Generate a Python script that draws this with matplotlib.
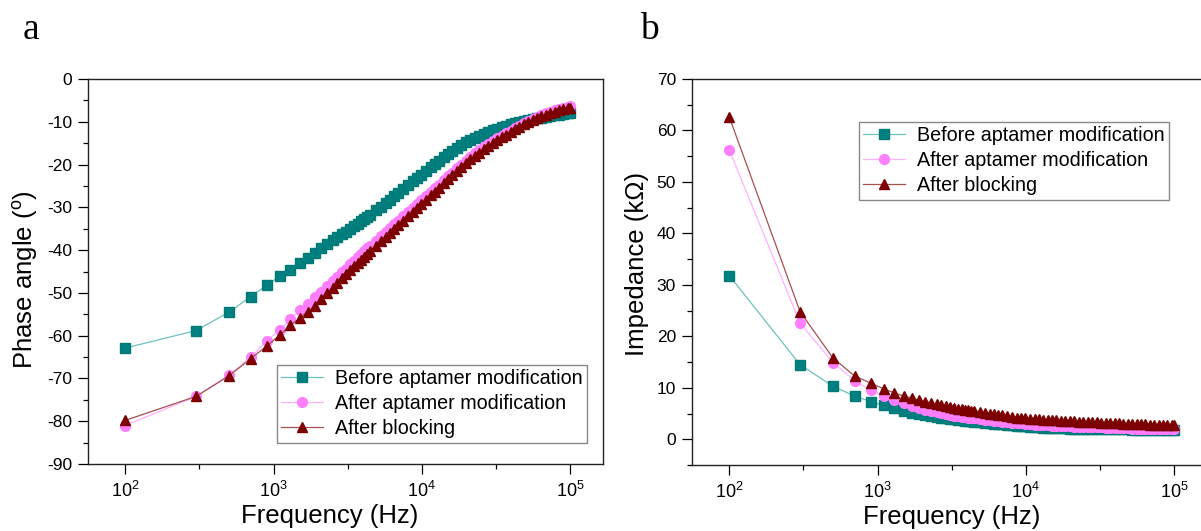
import matplotlib
matplotlib.use("Agg")
import math
import matplotlib.pyplot as plt
from matplotlib.ticker import FixedLocator, FuncFormatter, MultipleLocator

plt.rcParams['font.family'] = ['Liberation Sans', 'DejaVu Sans']
plt.rcParams['mathtext.fontset'] = 'custom'
plt.rcParams['mathtext.rm'] = 'Liberation Sans'
plt.rcParams['mathtext.it'] = 'Liberation Sans:italic'
plt.rcParams['mathtext.default'] = 'regular'
plt.rcParams['axes.unicode_minus'] = False

# ---------------- data ----------------
freq = [100, 300, 500, 700, 900, 1100, 1300, 1500, 1700, 1900,
        2100, 2300, 2500, 2700, 2900, 3100, 3300, 3500, 3700, 3900,
        4100, 4300, 4500, 4900, 5300, 5700, 6100, 6500, 6900, 7500,
        8100, 8700, 9300, 9900, 10700, 11500, 12300, 13100, 14100, 15100,
        16100, 17300, 18500, 19900, 21300, 22900, 24500, 26300, 28100, 30100,
        32300, 34700, 37100, 39700, 42500, 45500, 48700, 52100, 55900, 59900,
        64100, 68700, 73500, 78700, 84300, 90300, 96700, 100000]

labels = ["Before aptamer modification", "After aptamer modification", "After blocking"]

phase_before = [-62.9, -58.8, -54.5, -50.9, -48.2, -46.1, -44.6, -43.1, -41.8, -40.7,
                -39.6, -38.5, -37.7, -37.0, -36.3, -35.7, -35.0, -34.4, -33.9, -33.3,
                -32.7, -32.2, -31.7, -30.7, -29.9, -29.0, -28.2, -27.4, -26.7, -25.7,
                -24.8, -23.9, -23.2, -22.4, -21.5, -20.6, -19.8, -19.1, -18.3, -17.5,
                -16.8, -16.1, -15.5, -14.8, -14.3, -13.8, -13.3, -12.8, -12.4, -12.0,
                -11.7, -11.3, -11.0, -10.6, -10.4, -10.1, -9.8, -9.6, -9.4, -9.2,
                -9.0, -8.8, -8.6, -8.4, -8.3, -8.1, -8.0, -7.9]

phase_after = [-81.0, -74.2, -69.2, -65.1, -61.2, -58.6, -56.2, -54.1, -52.6, -51.0,
               -49.7, -48.4, -47.3, -46.2, -45.1, -44.3, -43.3, -42.5, -41.7, -40.9,
               -40.3, -39.6, -39.0, -37.8, -36.8, -35.8, -34.8, -33.9, -33.2, -32.1,
               -31.1, -30.2, -29.3, -28.4, -27.4, -26.4, -25.5, -24.7, -23.7, -22.7,
               -21.9, -20.9, -20.0, -19.1, -18.3, -17.4, -16.7, -16.0, -15.3, -14.6,
               -13.9, -13.3, -12.7, -12.1, -11.5, -10.9, -10.3, -9.8, -9.3, -8.8,
               -8.4, -8.0, -7.6, -7.3, -7.0, -6.7, -6.5, -6.4]

phase_block = [-79.8, -74.2, -69.4, -65.4, -62.4, -59.9, -57.6, -55.9, -54.4, -53.0,
               -51.5, -50.1, -48.9, -47.7, -46.6, -45.7, -44.7, -43.8, -43.0, -42.2,
               -41.5, -40.8, -40.2, -39.0, -37.9, -36.9, -35.9, -35.0, -34.2, -33.1,
               -32.1, -31.1, -30.2, -29.3, -28.2, -27.2, -26.3, -25.4, -24.4, -23.4,
               -22.5, -21.5, -20.6, -19.6, -18.8, -17.9, -17.2, -16.4, -15.7, -15.0,
               -14.3, -13.6, -13.0, -12.4, -11.8, -11.2, -10.6, -10.1, -9.6, -9.1,
               -8.7, -8.3, -7.9, -7.6, -7.3, -7.0, -6.8, -6.7]

imp_before = [31.8, 14.5, 10.3, 8.4, 7.3, 6.6, 6.0, 5.5, 5.1, 4.85,
              4.65, 4.5, 4.35, 4.2, 4.1, 4.0, 3.9, 3.8, 3.7, 3.6,
              3.55, 3.5, 3.4, 3.3, 3.2, 3.1, 3.0, 2.93, 2.87, 2.78,
              2.7, 2.62, 2.55, 2.5, 2.43, 2.37, 2.32, 2.28, 2.24, 2.2,
              2.17, 2.14, 2.11, 2.08, 2.06, 2.04, 2.02, 2.0, 1.99, 1.98,
              1.96, 1.95, 1.94, 1.93, 1.92, 1.91, 1.9, 1.89, 1.88, 1.87,
              1.86, 1.85, 1.84, 1.83, 1.82, 1.81, 1.8, 1.8]

imp_after = [56.2, 22.6, 14.9, 11.4, 9.5, 8.4, 7.6, 7.0, 6.5, 6.05,
             5.7, 5.45, 5.25, 5.05, 4.9, 4.75, 4.6, 4.5, 4.4, 4.3,
             4.2, 4.12, 4.05, 3.9, 3.78, 3.67, 3.57, 3.49, 3.42, 3.33,
             3.24, 3.15, 3.08, 3.0, 2.93, 2.86, 2.81, 2.76, 2.71, 2.66,
             2.62, 2.58, 2.54, 2.5, 2.47, 2.44, 2.41, 2.38, 2.35, 2.32,
             2.29, 2.26, 2.23, 2.2, 2.17, 2.14, 2.11, 2.09, 2.07, 2.05,
             2.03, 2.01, 1.99, 1.97, 1.95, 1.93, 1.91, 1.9]

imp_block = [62.6, 24.8, 15.8, 12.3, 10.9, 9.8, 9.0, 8.4, 8.0, 7.6,
             7.3, 7.05, 6.8, 6.6, 6.4, 6.25, 6.1, 5.97, 5.85, 5.74,
             5.64, 5.55, 5.46, 5.3, 5.15, 5.0, 4.88, 4.75, 4.62, 4.45,
             4.32, 4.22, 4.15, 4.1, 4.02, 3.95, 3.89, 3.84, 3.78, 3.72,
             3.67, 3.62, 3.57, 3.51, 3.47, 3.42, 3.38, 3.34, 3.3, 3.26,
             3.22, 3.18, 3.14, 3.1, 3.07, 3.04, 3.01, 2.98, 2.95, 2.92,
             2.89, 2.86, 2.83, 2.8, 2.77, 2.75, 2.72, 2.71]

# ---------------- styling ----------------
styles = [
    dict(marker='s', ms=6.8, color='#6cc2bd', mfc='#008080', mec='#007a76'),
    dict(marker='o', ms=7.0, color='#ffb0ff', mfc='#ff80ff', mec='#ff7cff'),
    dict(marker='^', ms=7.8, color='#a85050', mfc='#800000', mec='#7a0000'),
]

fig = plt.figure(figsize=(12.01, 5.31), dpi=100)
W, H = 1201.0, 531.0
ax_a = fig.add_axes([88 / W, 1 - 464 / H, 515 / W, 385 / H])
ax_b = fig.add_axes([692 / W, 1 - 465 / H, 515 / W, 386 / H])


def log_fmt(v, pos):
    e = int(round(math.log10(v)))
    return r'$10^{%d}$' % e


def setup(ax, ylim, ymaj, ymin):
    ax.set_xscale('log')
    ax.set_xlim(56, 167000)
    ax.set_ylim(*ylim)
    ax.xaxis.set_major_locator(FixedLocator([1e2, 1e3, 1e4, 1e5]))
    ax.xaxis.set_minor_locator(FixedLocator([316.23, 3162.3, 31623]))
    ax.xaxis.set_major_formatter(FuncFormatter(log_fmt))
    ax.xaxis.set_minor_formatter(FuncFormatter(lambda v, p: ''))
    ax.yaxis.set_major_locator(MultipleLocator(ymaj))
    ax.yaxis.set_minor_locator(MultipleLocator(ymin))
    ax.tick_params(which='major', direction='out', length=7.5, width=0.9,
                   labelsize=12.5, pad=4, top=False, right=False)
    ax.tick_params(which='minor', direction='out', length=3.5, width=0.9,
                   top=False, right=False)
    ax.tick_params(axis='x', which='major', pad=5, labelsize=13)
    for s in ax.spines.values():
        s.set_linewidth(1.0)
        s.set_color('#222222')


series_a = [phase_before, phase_after, phase_block]
series_b = [imp_before, imp_after, imp_block]

for ax, series in ((ax_a, series_a), (ax_b, series_b)):
    for vals, st, lab in zip(series, styles, labels):
        ax.plot(freq, vals, label=lab, lw=0.9, **st)

setup(ax_a, (-90, 0), 10, 5)
setup(ax_b, (-5, 70), 10, 5)

ax_a.set_ylabel('Phase angle ($^{o}$)', fontsize=18.5)
ax_a.yaxis.set_label_coords(-0.093, 0.48)
ax_a.set_xlabel('Frequency (Hz)', fontsize=18.5)
ax_a.xaxis.set_label_coords(0.47, -0.105)

ax_b.set_ylabel('Impedance (k\u03a9)', fontsize=18.5)
ax_b.yaxis.set_label_coords(-0.083, 0.52)
ax_b.set_xlabel('Frequency (Hz)', fontsize=18.5)
ax_b.xaxis.set_label_coords(0.504, -0.104)

leg_kw = dict(fontsize=14.2, frameon=True, fancybox=False, borderaxespad=0,
              loc='upper left', bbox_transform=fig.transFigure,
              labelspacing=0.3, borderpad=0.22, handletextpad=0.6,
              handlelength=2.1)
la = ax_a.legend(bbox_to_anchor=(277 / W, 1 - 365 / H), **leg_kw)
lb = ax_b.legend(bbox_to_anchor=(859 / W, 1 - 122 / H), **leg_kw)
for lg in (la, lb):
    fr = lg.get_frame()
    fr.set_edgecolor('#6a6a6a')
    fr.set_linewidth(1.0)

fig.text(23 / W, 1 - 39 / H, 'a', fontsize=27, family='Liberation Serif',
         va='baseline', ha='left')
fig.text(640 / W, 1 - 39 / H, 'b', fontsize=27, family='Liberation Serif',
         va='baseline', ha='left')

fig.savefig('out.png', dpi=100)
